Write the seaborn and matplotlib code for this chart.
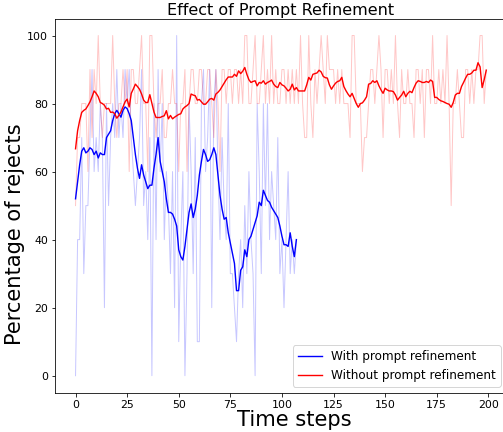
import matplotlib
matplotlib.use("Agg")
import matplotlib.pyplot as plt
import seaborn as sns
import numpy as np
import pandas as pd

# ---- data ----
with_raw = [0, 40, 40, 70, 30, 50, 50, 70, 90, 60, 70, 60, 80, 70, 20, 80, 50, 70, 80, 70,
            90, 70, 80, 70, 90, 80, 90, 70, 60, 50, 60, 70, 90, 50, 60, 40, 70, 0, 80, 40,
            90, 60, 80, 40, 60, 50, 30, 60, 20, 100, 10, 40, 60, 0, 30, 80, 60, 30, 70, 10,
            10, 80, 90, 60, 70, 90, 20, 80, 90, 60, 40, 70, 50, 40, 80, 30, 30, 20, 10, 30,
            40, 20, 50, 30, 60, 40, 30, 0, 80, 60, 30, 80, 50, 80, 40, 60, 50, 40, 70, 30,
            40, 20, 40, 60, 30, 40, 30, 40]
with_smooth = [52, 57, 62, 66, 67, 65.5, 66, 67, 66.5, 65, 66, 64, 65.5, 65, 65, 70, 71, 72, 75, 77,
               78, 77, 76, 78, 79, 78.5, 77, 75, 70, 65, 61, 58, 62, 59, 57, 55, 56, 56, 61, 65,
               70, 63, 60, 57, 52, 48, 48, 47.5, 46, 44, 37, 35, 34, 38, 43, 48, 50.5, 46.5, 49, 53,
               59, 63, 66.5, 65, 63, 63.5, 65, 67, 65, 59, 53, 49, 46, 46.5, 42, 39, 36, 33, 25, 25,
               31, 32, 37, 35, 40, 41, 43, 45, 47, 51, 50, 54.5, 53, 51.5, 51, 49.5, 48.5, 47.5, 46.5, 44,
               41, 38.5, 38.5, 38, 42, 38, 35, 40]

without_raw = [50, 70, 70, 80, 80, 80, 60, 90, 70, 90, 80, 100, 80, 70, 80, 80, 80, 80, 100, 80,
               70, 80, 80, 90, 80, 90, 60, 90, 90, 80, 80, 90, 100, 80, 80, 60, 100, 100, 80, 70,
               80, 80, 90, 70, 70, 80, 80, 90, 80, 80, 60, 80, 80, 90, 60, 80, 90, 90, 80, 80,
               90, 90, 80, 80, 90, 90, 80, 70, 90, 80, 60, 90, 90, 80, 90, 90, 80, 90, 90, 80,
               90, 80, 100, 100, 80, 80, 90, 100, 80, 80, 90, 100, 80, 90, 80, 100, 80, 90, 80, 80,
               90, 90, 80, 90, 80, 90, 80, 90, 80, 100, 80, 70, 70, 100, 80, 70, 90, 80, 90, 100,
               90, 80, 100, 90, 90, 90, 80, 90, 80, 90, 80, 80, 80, 70, 100, 100, 80, 80, 80, 60,
               70, 70, 80, 90, 90, 80, 90, 100, 90, 70, 90, 90, 80, 90, 80, 100, 80, 70, 90, 80,
               80, 90, 80, 80, 70, 90, 90, 80, 90, 70, 90, 90, 80, 100, 80, 80, 90, 80, 90, 80,
               100, 80, 50, 80, 80, 90, 80, 70, 70, 90, 90, 80, 90, 80, 90, 90, 100, 100, 80, 90]
without_smooth = [66.7, 72, 75, 77.4, 78, 78.4, 79.4, 80.5, 82, 83.7, 83, 82, 80.3, 80, 79.5, 78.4, 78.6, 77.4, 77.5, 77,
                  75.7, 76.5, 77.5, 79, 80.5, 81.3, 79, 83, 84.3, 85.7, 85, 84.2, 82.8, 81, 80.3, 80.3, 82.6, 80, 77.5, 75.9,
                  75.9, 75.9, 76.2, 76.4, 77.9, 75.5, 76.5, 75.5, 76, 76.4, 76.8, 77, 78.4, 79, 79.4, 80, 82.8, 82.5, 82.3, 81,
                  81.2, 80.5, 79.8, 79.8, 80.5, 81.3, 81.5, 81, 82.8, 83.3, 84, 85, 86, 87, 87.8, 87.8, 87.8, 88.6, 88, 89.6,
                  88.8, 89.5, 90.6, 88.6, 87, 86.2, 86.5, 86.7, 85.2, 86.2, 86, 86.7, 85.7, 86.2, 86.5, 86.9, 85.7, 85, 84.7, 86.2,
                  85.5, 85.2, 84.5, 83.7, 84.2, 85.7, 84, 84.7, 83.7, 83.7, 83.7, 83.7, 85.5, 87.7, 86.9, 88.6, 88.8, 89, 89.8, 89.3,
                  88, 87.6, 87.5, 85.5, 84.2, 85.2, 86, 86.5, 86.7, 87.7, 85, 83.8, 82.8, 82, 83, 81.5, 80, 78.9, 80, 80.2,
                  81, 82, 85.7, 85.9, 86.7, 86.2, 86.7, 85.2, 84, 83, 84.5, 84, 83.7, 83.7, 83.5, 82.5, 81, 81.8, 82.5, 83.6,
                  82, 83, 83.6, 83.2, 84.7, 86, 86.7, 86.5, 86.2, 86.2, 86.5, 86.2, 86.9, 86.5, 81.8, 81.8, 81.2, 80.8, 80.6, 80.3,
                  80, 79.8, 78.9, 80.3, 82.5, 83, 83, 85, 86.2, 87.5, 88.6, 88.6, 89, 89.8, 89.8, 92, 90.8, 84.7, 87, 89.8]

steps_with = list(range(len(with_raw)))
steps_without = list(range(len(without_raw)))

title = "Effect of Prompt Refinement"
xlabel = "Time steps"
ylabel = "Percentage of rejects"
label_with = "With prompt refinement"
label_without = "Without prompt refinement"

# ---- figure ----
DPI = 72
fig = plt.figure(figsize=(503 / DPI, 432 / DPI), dpi=DPI)
W, H = 503, 432
ax_left, ax_top, ax_right, ax_bottom = 55, 18.5, 506.8, 392.7
ax = fig.add_axes([ax_left / W, 1 - ax_bottom / H, (ax_right - ax_left) / W, (ax_bottom - ax_top) / H])

sns.lineplot(x=steps_with, y=with_raw, color="blue", alpha=0.22, linewidth=1, ax=ax)
sns.lineplot(x=steps_without, y=without_raw, color="red", alpha=0.22, linewidth=1, ax=ax)
sns.lineplot(x=steps_with, y=with_smooth, color="blue", linewidth=1.4, ax=ax, label=label_with)
sns.lineplot(x=steps_without, y=without_smooth, color="red", linewidth=1.4, ax=ax, label=label_without)

ax.set_xlim(-9.95, 208.95)
ax.set_ylim(-5, 105)
ax.set_xticks([0, 25, 50, 75, 100, 125, 150, 175, 200])
ax.set_yticks([0, 20, 40, 60, 80, 100])
ax.tick_params(labelsize=11)
ax.set_title(title, fontsize=16, pad=4)
ax.set_xlabel(xlabel, fontsize=21)
ax.set_ylabel(ylabel, fontsize=21)
ax.xaxis.set_label_coords(0.530, -0.045, transform=ax.transAxes)
ax.xaxis.label.set_va("top")
ax.yaxis.set_label_coords(-0.066, 0.424, transform=ax.transAxes)
ax.legend(loc="lower right", fontsize=12)

fig.savefig("out.png", dpi=DPI)
